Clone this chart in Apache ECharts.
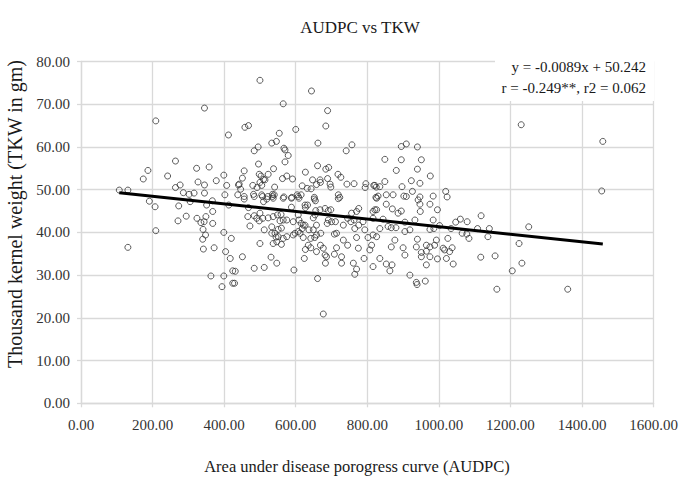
<!DOCTYPE html>
<html>
<head>
<meta charset="utf-8">
<script src="https://cdn.jsdelivr.net/npm/echarts@6/dist/echarts.min.js"></script>
<style>
html,body{margin:0;padding:0;background:#fff;}
#c{width:681px;height:477px;}
</style>
</head>
<body>
<div id="c"></div>
<script>
// AUDPC values (x)
var audpc = [
345,209,412,264,187,174,242,323,358,327,345,378,399,407,264,277,286,302,316,345,107,131,402,191,367,
207,273,305,351,413,368,294,271,324,335,344,349,368,341,348,340,209,131,342,372,399,420,404,417,363,399,394,424,424,
500,644,565,689,684,458,468,554,600,533,546,662,484,495,567,570,579,570,741,757,496,456,538,661,684,692,627,498,503,523,
451,442,510,500,563,575,591,718,726,647,668,689,743,763,796,818,794,825,618,632,643,658,669,696,698,440,446,480,492,505,514,541,
456,482,484,507,522,535,535,567,589,604,607,652,719,723,824,
1230,895,909,940,849,895,951,881,940,976,849,923,947,897,821,835,830,853,872,902,926,947,984,1019,1023,
1458,1455,1251,1224,1232,1360,
1205,1162,1157,1117,1118,1141,1137,1108,1060,1079,1047,1065,1078,1084,1034,1002,984,986,975,996,975,947,948,942,933,905,919,905,
886,895,870,853,816,826,816,844,858,867,880,835,826,877,867,900,905,816,835,853,869,863,940,937,951,965,975,965,993,988,
951,975,965,996,1012,1016,1030,1025,1037,1021,1040,919,937,939,962,909,
456,468,466,484,491,500,498,472,510,519,537,565,588,508,523,537,549,559,565,556,575,512,533,551,560,542,551,547,560,565,575,
500,451,431,429,484,512,531,547,595,588,593,607,626,633,618,612,598,593,609,615,652,655,621,626,649,658,653,635,642,621,627,624,658,669,
649,656,668,682,691,698,691,688,677,682,686,683,661,677,708,714,733,745,714,728,728,708,700,711,733,745,756,770,776,763,754,776,788,793,
765,770,775,761,770,765,791,807,812,802,816,821,826,719,438,505,540,533,545,537,609,615,607,637,642,658,670,654,627
];
// Thousand kernel weight values (y)
var tkw = [
69.1,66.1,62.8,56.7,54.5,52.5,53.2,55.0,55.3,51.8,51.1,52.1,53.4,51.0,50.5,51.1,49.3,48.9,49.2,49.2,49.9,49.9,48.8,47.3,47.4,
46.0,46.2,47.2,46.4,46.4,44.9,43.8,42.7,43.3,42.3,42.5,43.7,42.1,40.7,39.4,38.4,40.4,36.5,36.1,36.4,40.0,38.6,35.5,33.9,29.8,29.8,27.3,28.1,31.0,
75.6,73.1,70.1,68.5,64.9,64.6,65.0,63.2,64.1,60.9,61.3,60.9,59.1,60.0,59.7,59.3,58.0,56.5,59.1,60.5,56.0,54.4,54.9,55.6,54.8,55.2,54.1,53.6,53.2,53.6,
52.7,51.3,52.4,51.7,52.6,53.2,52.5,53.6,52.9,52.3,52.3,52.6,51.3,51.4,51.4,51.0,50.5,50.6,50.9,50.3,50.2,51.2,51.7,51.3,50.6,51.1,50.1,51.0,50.5,51.0,52.3,50.6,
48.4,48.9,48.4,48.4,48.4,48.9,48.4,48.3,48.2,48.8,48.4,48.2,48.8,48.2,48.2,
65.2,60.1,60.7,60.0,57.1,57.0,57.0,54.5,54.8,53.2,51.9,52.1,51.5,50.7,51.0,50.7,48.5,48.8,48.8,48.5,49.6,48.3,48.5,49.6,48.3,
61.3,49.7,41.3,37.4,32.8,26.7,
31.0,26.7,34.5,34.2,43.9,40.9,39.0,40.9,43.1,42.5,42.4,39.8,39.6,38.6,40.9,41.6,42.9,40.9,40.7,45.3,46.6,46.6,44.9,47.6,42.9,42.4,40.6,40.2,
44.5,45.0,45.5,46.6,44.9,45.3,43.3,43.1,41.4,41.1,41.1,40.9,39.0,38.2,36.6,36.4,34.7,32.0,33.9,32.6,32.4,31.0,38.4,36.6,35.3,37.0,36.6,35.6,38.2,37.0,
34.3,34.3,32.4,33.8,36.3,35.9,35.5,38.6,36.4,33.9,32.6,30.0,28.3,27.8,28.6,48.4,
47.8,45.8,43.7,43.9,43.3,44.5,42.7,41.5,47.2,47.8,48.0,48.0,48.0,43.3,43.4,43.7,44.1,44.2,42.9,42.7,42.9,40.6,41.3,40.7,41.0,39.8,39.0,37.8,37.2,38.6,39.0,
37.4,34.3,30.9,28.1,31.6,31.8,34.2,32.8,31.2,45.9,42.5,44.1,46.4,46.4,40.9,39.8,39.8,39.4,48.0,48.8,47.8,47.4,41.7,41.7,40.6,39.4,38.8,37.0,36.4,38.8,36.0,33.9,35.5,37.0,
43.4,45.1,45.3,45.6,45.1,45.3,42.9,42.1,36.3,34.7,34.3,32.8,29.2,20.9,39.6,39.8,38.2,37.0,36.4,34.3,32.8,34.9,42.5,42.5,41.7,43.3,44.5,44.9,45.6,42.9,42.5,41.7,42.5,40.6,
40.9,38.8,36.3,32.8,31.4,30.2,33.9,35.9,37.0,38.8,39.4,45.3,48.0,47.9,48.8,48.8,48.8,39.8,38.9,37.4,42.9,42.1,40.2,40.6,38.6,41.7,39.8,44.1,45.8
];
// Regression reported on the chart
var slope = -0.0089;
var intercept = 50.242;
var eqText = 'y = -0.0089x + 50.242';
var statText = 'r = -0.249**, r2 = 0.062';
// Tick labels
var xTickLabels = ['0.00','200.00','400.00','600.00','800.00','1000.00','1200.00','1400.00','1600.00'];
var yTickLabels = ['0.00','10.00','20.00','30.00','40.00','50.00','60.00','70.00','80.00'];
var titleText = 'AUDPC vs TKW';
var xName = 'Area under disease porogress curve (AUDPC)';
var yName = 'Thousand kernel weight (TKW in gm)';

var n = Math.min(audpc.length, tkw.length);
var pts = [];
for (var i = 0; i < n; i++) pts.push([audpc[i], tkw[i]]);
var minX = Math.min.apply(null, audpc.slice(0, n));
var maxX = Math.max.apply(null, audpc.slice(0, n));
var trend = [[minX, slope * minX + intercept], [maxX, slope * maxX + intercept]];

var serif = "'Liberation Serif', 'Times New Roman', 'DejaVu Serif', serif";
var gridCol = '#d9d9d9';
var chart = echarts.init(document.getElementById('c'), null, {renderer: 'svg'});
chart.setOption({
  animation: false,
  backgroundColor: '#fff',
  title: {
    text: titleText, left: 355, top: 14, textAlign: 'center',
    textStyle: {fontFamily: serif, fontSize: 17, fontWeight: 'normal', color: '#1a1a1a'}
  },
  grid: {left: 81, right: 24, top: 61.5, bottom: 73.7},
  xAxis: {
    type: 'value', min: 0, max: 1600, interval: 200,
    axisLine: {show: true, lineStyle: {color: gridCol, width: 1.3}},
    axisTick: {show: true, length: 4, lineStyle: {color: gridCol, width: 1.3}},
    splitLine: {show: true, lineStyle: {color: gridCol, width: 1.3}},
    axisLabel: {
      margin: 14, fontFamily: serif, fontSize: 15, color: '#333',
      formatter: function (v) { return xTickLabels[Math.round(v / 200)]; }
    }
  },
  yAxis: {
    type: 'value', min: 0, max: 80, interval: 10,
    axisLine: {show: true, lineStyle: {color: gridCol, width: 1.3}},
    axisTick: {show: true, length: 4, lineStyle: {color: gridCol, width: 1.3}},
    splitLine: {show: true, lineStyle: {color: gridCol, width: 1.3}},
    axisLabel: {
      margin: 11, fontFamily: serif, fontSize: 15, color: '#333',
      formatter: function (v) { return yTickLabels[Math.round(v / 10)]; }
    }
  },
  graphic: [
    {type: 'rect', z: 50, shape: {x: 495, y: 50, width: 159, height: 51}, style: {fill: '#fff'}},
    {type: 'text', z: 51, x: 646, y: 67, style: {text: eqText, fontFamily: serif, fontSize: 15, fill: '#1a1a1a', align: 'right', verticalAlign: 'middle'}},
    {type: 'text', z: 51, x: 646, y: 88, style: {text: statText, fontFamily: serif, fontSize: 15, fill: '#1a1a1a', align: 'right', verticalAlign: 'middle'}},
    {type: 'text', z: 51, x: 357, y: 466, style: {text: xName, fontFamily: serif, fontSize: 16.5, fill: '#1a1a1a', align: 'center', verticalAlign: 'middle'}},
    {type: 'text', z: 51, x: 15, y: 214, rotation: Math.PI / 2, style: {text: yName, fontFamily: serif, fontSize: 20, fill: '#1a1a1a', align: 'center', verticalAlign: 'middle'}}
  ],
  series: [
    {
      type: 'scatter', data: pts, symbol: 'circle', symbolSize: 6, z: 3,
      itemStyle: {color: 'rgba(0,0,0,0)', borderColor: '#333', borderWidth: 1}
    },
    {
      type: 'line', data: trend, symbol: 'none', z: 5, silent: true,
      lineStyle: {color: '#000', width: 3}
    }
  ]
});
</script>
</body>
</html>
